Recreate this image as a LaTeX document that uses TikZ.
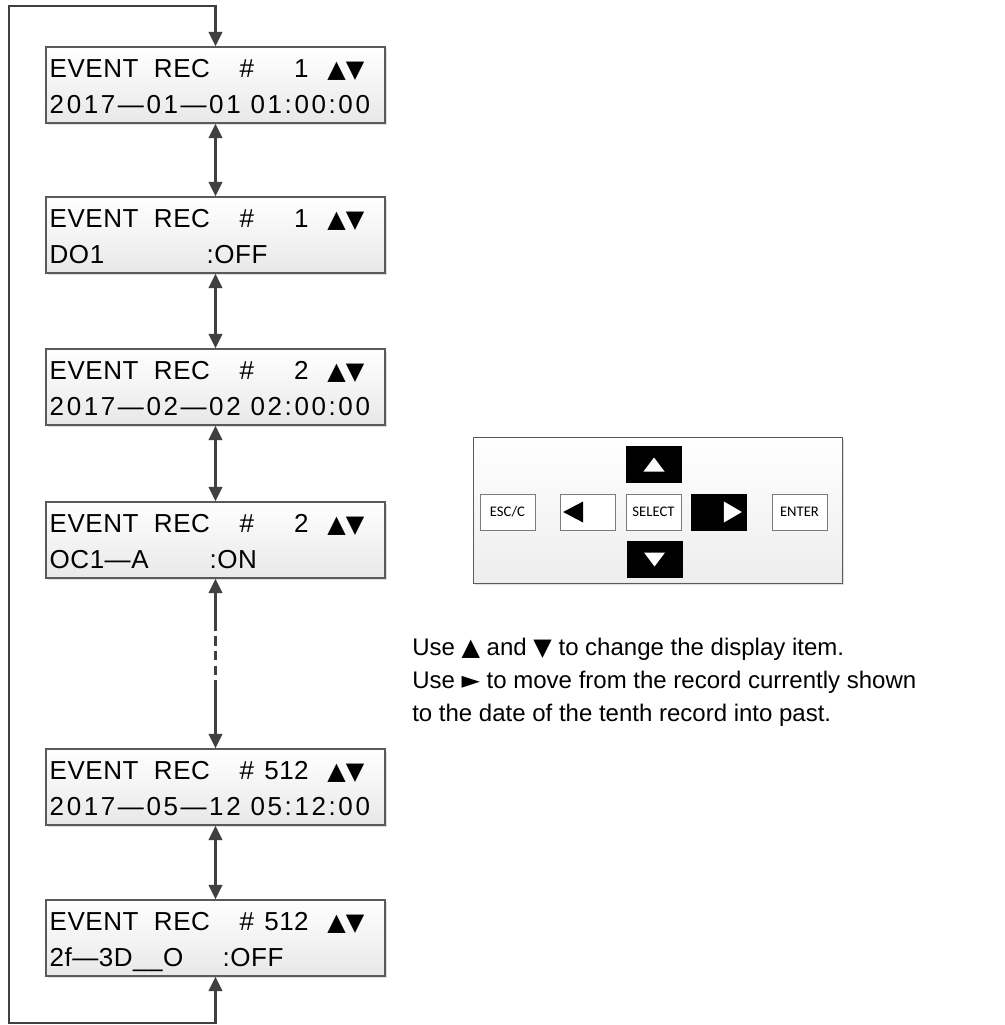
\documentclass[tikz,border=0pt]{standalone}
\usepackage{fontspec}
\setmainfont{Liberation Sans}
\newfontfamily\lcdfont[LetterSpace=2]{Liberation Sans}
\newfontfamily\lcdwide[LetterSpace=10]{Liberation Sans}
\newfontfamily\keyfont{Carlito}
\newfontfamily\symfont{DejaVu Sans}
\usepackage{tikz}
\usetikzlibrary{arrows.meta,positioning,calc,shadows}
\definecolor{Ink}{HTML}{404040}
\definecolor{Frame}{HTML}{5A5A5A}
\definecolor{KeyEdge}{HTML}{7A7A7A}
\newcommand{\evline}[1]{\makebox[142.5pt][l]{EVENT\ \ REC}\makebox[51.75pt][l]{\#\hfill #1}\hspace{14pt}{\symfont\fontsize{18pt}{18pt}\selectfont ▲▼}}
\newcommand{\recbox}[4]{
  \node[recbox] (#1) at (215.5,#2) {};
  \node[lcdtext] (#1top) at ($(#1.north west)+(4,31)$) {\evline{#3}};
  \node[lcdtext] (#1bot) at ($(#1.north west)+(4,67)$) {#4};
}
\tikzset{
  >={Triangle[length=11pt,width=10pt]},
  recbox/.style={draw=Frame, line width=0.8pt, top color=white, bottom color=black!9,
    minimum width=254.25pt, minimum height=57pt, inner sep=0pt,
    drop shadow={shadow xshift=1.2pt, shadow yshift=-1.2pt, opacity=.25}},
  lcdtext/.style={anchor=base west, inner sep=0pt, font=\lcdfont\fontsize{19.5pt}{20pt}\selectfont},
  link/.style={draw=Ink, line width=2.2pt, line join=miter},
  padkey/.style={draw=KeyEdge, line width=0.6pt, fill=white, minimum width=41.25pt,
    minimum height=27pt, inner sep=0pt, font=\keyfont\fontsize{11pt}{12pt}\selectfont},
  note/.style={anchor=base west, inner sep=0pt, font=\fontsize{18pt}{20pt}\selectfont}
}

\begin{document}
\begin{tikzpicture}[x=0.75pt,y=-0.75pt]
  \useasboundingbox (0,0) rectangle (1004,1025);
  \recbox{rec1}{85}{1}{{\lcdwide 2017—01—01 01:00:00}}
  \recbox{rec2}{235}{1}{\makebox[117.75pt][l]{DO1}:OFF}
  \recbox{rec3}{387}{2}{{\lcdwide 2017—02—02 02:00:00}}
  \recbox{rec4}{540}{2}{\makebox[120pt][l]{OC1—A}:ON}
  \recbox{rec5}{787}{\hspace{-4pt}512}{{\lcdwide 2017—05—12 05:12:00}}
  \recbox{rec6}{938}{\hspace{-4pt}512}{\makebox[129.75pt][l]{2f—3D\_\_O}:OFF}

  \draw[link, <->] (rec1) -- (rec2);
  \draw[link, <->] (rec2) -- (rec3);
  \draw[link, <->] (rec3) -- (rec4);
  \draw[link, <->] (rec5) -- (rec6);
  \coordinate (gapA) at ($(rec4.south)+(0,43)$);
  \coordinate (gapB) at ($(rec5.north)+(0,-59)$);
  \draw[link, ->] ([yshift=-0.6pt]gapA) -- (rec4.south) ;
  \draw[link, dash pattern=on 7pt off 4pt] (gapA) -- (gapB);
  \draw[link, ->] ([yshift=0.6pt]gapB) -- (rec5.north);
  \coordinate (loopbot) at (9,1023);
  \coordinate (looptop) at (9,6);
  \draw[link, <->] (rec6.south) -- (rec6.south |- loopbot) -- (loopbot) -- (looptop)
    -- (rec1.north |- looptop) -- (rec1.north);

  \node[draw=Frame, line width=0.7pt, top color=white, bottom color=black!7,
    minimum width=276.75pt, minimum height=110pt,
    drop shadow={shadow xshift=1.2pt, shadow yshift=-1.2pt, opacity=.25}] (pad) at (657.5,510.5) {};
  \node[padkey] (esc) at (507.5,512) {ESC/C};
  \node[padkey] (leftkey) at (588,512) {};
  \node[padkey] (select) at (653.5,512) {SELECT};
  \node[padkey, fill=black, draw=black] (rightkey) at (719,512) {};
  \node[padkey] (enter) at (799.5,512) {ENTER};
  \node[padkey, fill=black, draw=black] (upkey) at (654,464.5) {};
  \node[padkey, fill=black, draw=black] (downkey) at (654.5,559.5) {};
  \fill (leftkey.west) ++(3,0) -- ++(20,-10.5) -- ++(0,21) -- cycle;
  \fill[white] (rightkey.east) ++(-5,0) -- ++(-18,-10.5) -- ++(0,21) -- cycle;
  \fill[white] (upkey.center) ++(0,-7) -- ++(10.5,14) -- ++(-21,0) -- cycle;
  \fill[white] (downkey.center) ++(0,7) -- ++(10.5,-14) -- ++(-21,0) -- cycle;

  \node[note] (note1) at (412,655) {Use {\symfont ▲} and {\symfont ▼} to change the display item.};
  \node[note] (note2) at (412,688) {Use {\symfont ►} to move from the record currently shown};
  \node[note] (note3) at (412,721) {to the date of the tenth record into past.};
\end{tikzpicture}
\end{document}
